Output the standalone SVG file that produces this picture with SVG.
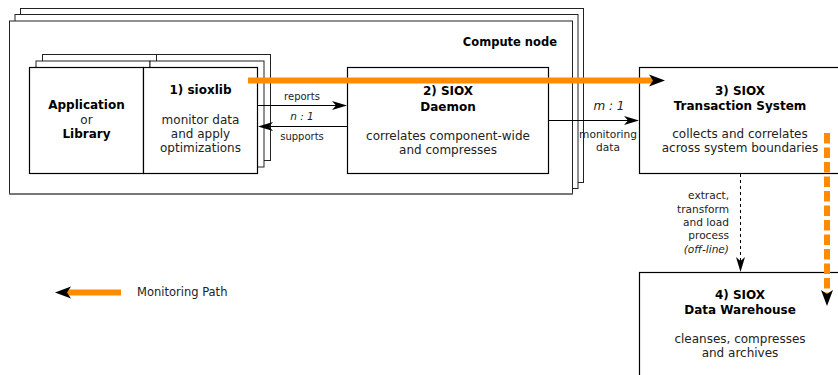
<svg xmlns="http://www.w3.org/2000/svg" width="838" height="375" viewBox="0 0 838 375">
<style>
.frame{fill:#fff;stroke:#222;stroke-width:1}
.box{fill:#fff;stroke:#000;stroke-width:1.2}
.t{font-family:"DejaVu Sans",sans-serif;font-size:12px;fill:#222;text-anchor:middle}
.b{font-family:"DejaVu Sans",sans-serif;font-size:12px;font-weight:bold;fill:#000;text-anchor:middle}
.s{font-family:"DejaVu Sans",sans-serif;font-size:10px;fill:#222;text-anchor:middle}
.m{font-family:"DejaVu Sans",sans-serif;font-size:10.6px;fill:#222;text-anchor:middle}
.sr{font-family:"DejaVu Sans",sans-serif;font-size:10.6px;fill:#222;text-anchor:end}
.i{font-style:italic}
.c{fill:none;stroke:#000;stroke-width:1}
.mon{fill:none;stroke:#ff8c00;stroke-width:6}
</style>
<defs>
<marker id="ah" markerUnits="userSpaceOnUse" markerWidth="16" markerHeight="10" viewBox="-4 -5 16 10" refX="0" refY="0" orient="auto">
<path d="M11,0 L-4,-4.5 L0,0 L-4,4.5 Z" fill="#000"/>
</marker>
<marker id="oh" markerUnits="userSpaceOnUse" markerWidth="17" markerHeight="14" viewBox="-4 -7 17 14" refX="0" refY="0" orient="auto">
<path d="M12,0 L-4,-6 L0,0 L-4,6 Z" fill="#000"/>
</marker>
</defs>
<g id="compute-node">
<rect class="frame" x="20.5" y="8.5" width="563" height="174"/>
<rect class="frame" x="15" y="14.5" width="563" height="174"/>
<rect class="frame" x="9.5" y="21" width="563" height="173"/>
<line x1="9.5" y1="194" x2="572.5" y2="194" stroke="#777" stroke-width="2"/>
<text class="b" x="557" y="46" style="text-anchor:end;font-size:11.5px">Compute node</text>
</g>
<g id="application">
<rect class="frame" x="42.5" y="54.5" width="114" height="106"/>
<rect class="frame" x="36" y="61" width="114" height="106"/>
<rect class="box" x="29.5" y="67.5" width="114" height="106"/>
<text class="b" x="86.5" y="109">Application</text>
<text class="t" x="86.5" y="124">or</text>
<text class="b" x="86.5" y="138">Library</text>
</g>
<g id="sioxlib">
<rect class="frame" x="156.5" y="54.5" width="114" height="106"/>
<rect class="frame" x="150" y="61" width="114" height="106"/>
<rect class="box" x="143.5" y="67.5" width="114" height="106"/>
<text class="b" x="200.5" y="94">1) sioxlib</text>
<text class="t" x="200.5" y="124">monitor data</text>
<text class="t" x="200.5" y="138">and apply</text>
<text class="t" x="200.5" y="152">optimizations</text>
</g>
<g id="daemon">
<rect class="box" x="347.5" y="67.5" width="201" height="106"/>
<text class="b" x="448" y="95">2) SIOX</text>
<text class="b" x="448" y="111">Daemon</text>
<text class="t" x="448" y="140">correlates component-wide</text>
<text class="t" x="448" y="154">and compresses</text>
</g>
<g id="transaction-system">
<rect class="box" x="639.5" y="67.5" width="202" height="106"/>
<text class="b" x="740" y="95">3) SIOX</text>
<text class="b" x="740" y="110">Transaction System</text>
<text class="t" x="740" y="138">collects and correlates</text>
<text class="t" x="740" y="152">across system boundaries</text>
</g>
<g id="data-warehouse">
<rect class="box" x="639.5" y="272.5" width="202" height="110"/>
<text class="b" x="740" y="299">4) SIOX</text>
<text class="b" x="740" y="314">Data Warehouse</text>
<text class="t" x="740" y="343">cleanses, compresses</text>
<text class="t" x="740" y="357">and archives</text>
</g>
<g id="connectors">
<line class="c" x1="257.5" y1="105.5" x2="336" y2="105.5" marker-end="url(#ah)"/>
<text class="s" x="302" y="100">reports</text>
<text class="s i" x="302" y="120" style="font-size:10.5px">n : 1</text>
<line class="c" x1="347" y1="126.5" x2="269" y2="126.5" marker-end="url(#ah)"/>
<text class="s" x="302" y="140">supports</text>
<line class="c" x1="548" y1="120.5" x2="628" y2="120.5" marker-end="url(#ah)"/>
<text class="m i" x="609" y="110" style="font-size:12px">m : 1</text>
<text class="m" x="608" y="138">monitoring</text>
<text class="m" x="608" y="151">data</text>
<line class="c" x1="740.5" y1="174" x2="740.5" y2="261" stroke-dasharray="3,3" marker-end="url(#ah)"/>
<text class="sr" x="729" y="199">extract,</text>
<text class="sr" x="729" y="213">transform</text>
<text class="sr" x="729" y="226">and load</text>
<text class="sr" x="729" y="239">process</text>
<text class="sr i" x="729" y="253">(off-line)</text>
<line class="mon" x1="248" y1="80.5" x2="653" y2="80.5" marker-end="url(#oh)"/>
<line class="mon" x1="827" y1="133" x2="827" y2="294" stroke-width="5.5" stroke-dasharray="10.5,4" marker-end="url(#oh)"/>
</g>
<g id="legend">
<line class="mon" x1="121" y1="292.5" x2="67" y2="292.5" stroke-width="5" marker-end="url(#oh)"/>
<text class="t" x="137" y="296" style="text-anchor:start;font-size:11.5px">Monitoring Path</text>
</g>
</svg>
